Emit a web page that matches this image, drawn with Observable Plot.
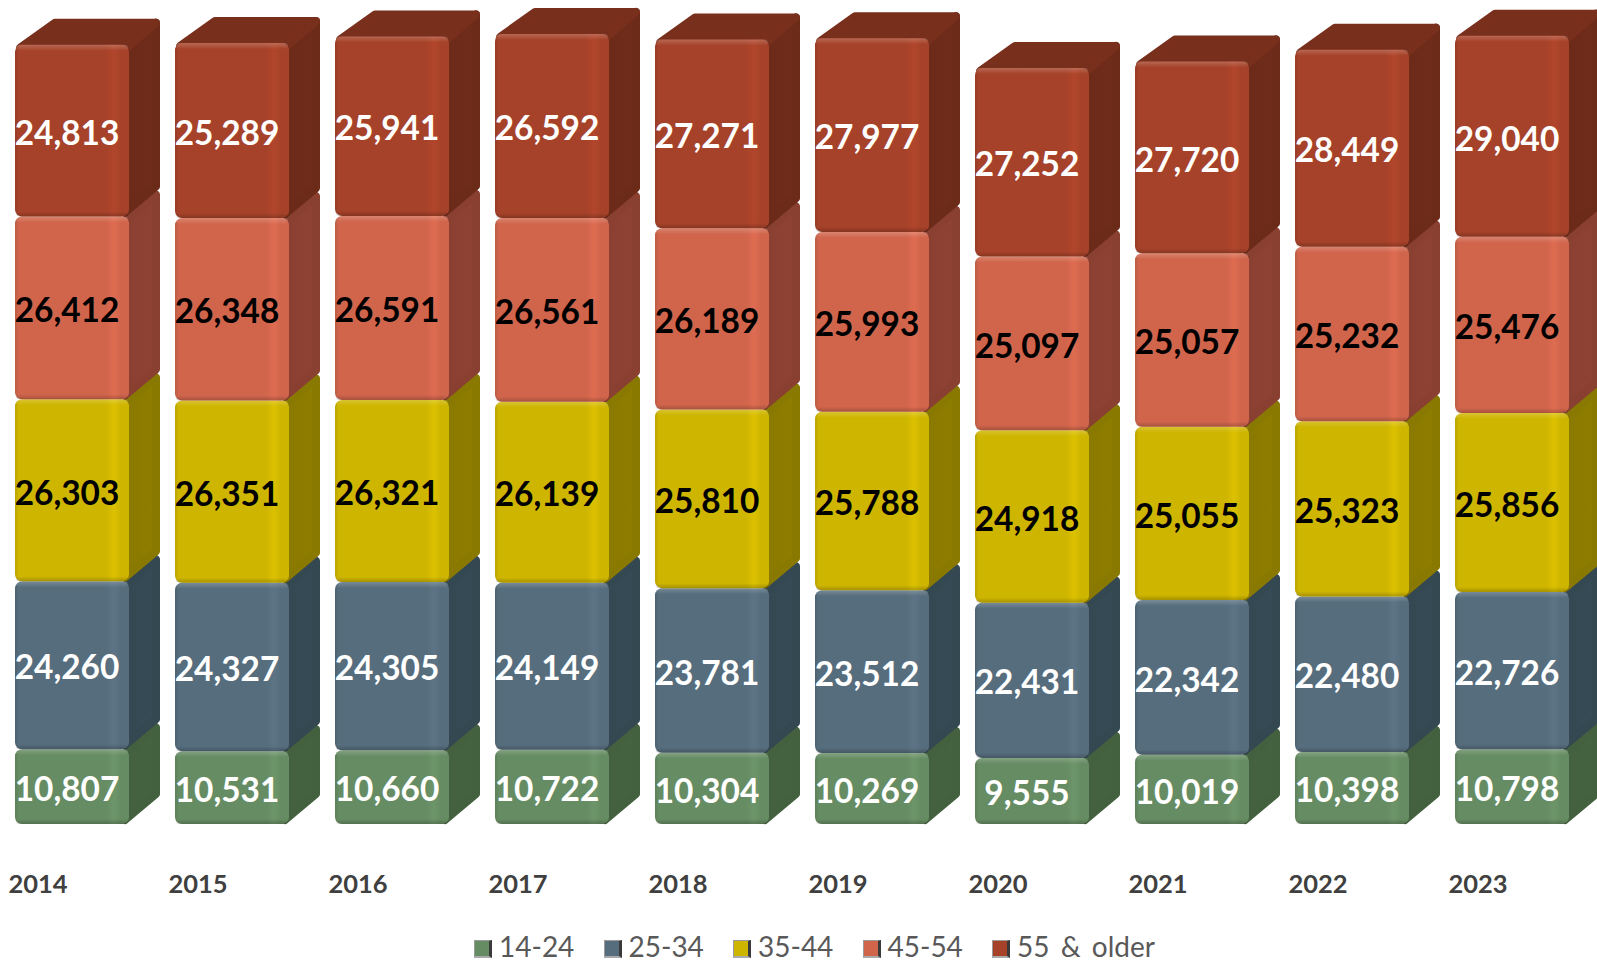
<!DOCTYPE html>
<html><head><meta charset="utf-8">
<script src="https://cdn.jsdelivr.net/npm/d3@7"></script>
<script src="https://cdn.jsdelivr.net/npm/@observablehq/plot@0.6"></script>
<style>
html,body{margin:0;padding:0;background:#fff;overflow:hidden}
#chart svg{display:block;overflow:hidden}
#legend{position:relative;height:38px;padding-left:474px;display:flex;align-items:flex-start;font:400 28px Lato,sans-serif;color:#595959;line-height:30px;word-spacing:4px}
#legend .it{display:flex;align-items:center;width:129.5px;white-space:nowrap;margin-top:6px}
#legend .sw{width:18px;height:18px;margin-right:7px;box-sizing:border-box;flex:none;position:relative;top:3px;border:1px solid #9a9a9a;border-right:3px solid #3a3a3a;border-bottom:2px solid #aaa}
</style></head><body>
<div id="chart"></div><div id="legend"></div>
<script>
const years = ["2014","2015","2016","2017","2018","2019","2020","2021","2022","2023"];
const ages = ["14-24","25-34","35-44","45-54","55 & older"];
const age1424 = [10807,10531,10660,10722,10304,10269,9555,10019,10398,10798];
const age2534 = [24260,24327,24305,24149,23781,23512,22431,22342,22480,22726];
const age3544 = [26303,26351,26321,26139,25810,25788,24918,25055,25323,25856];
const age4554 = [26412,26348,26591,26561,26189,25993,25097,25057,25232,25476];
const age55up = [24813,25289,25941,26592,27271,27977,27252,27720,28449,29040];
const colors = ["#668c63","#566d7d","#ceb500","#d0654c","#a64229"];
const sides  = ["#43603f","#344852","#8a7900","#8a4031","#6c2a19"];
const labelInk = ["white","white","black","black","white"];
const series = [age1424,age2534,age3544,age4554,age55up];
const rows = ages.flatMap((age,a)=>years.map((year,i)=>({year,age,value:series[a][i]})));
const DX=31, DY=26, NS="http://www.w3.org/2000/svg";

function el(tag,attrs,parent){const e=document.createElementNS(NS,tag);for(const k in attrs)e.setAttribute(k,attrs[k]);if(parent)parent.appendChild(e);return e;}

function solid(index,scales,values,dims,ctx,next){
  const g=next(index,scales,values,dims,ctx);
  const rects=[...g.querySelectorAll("rect")];
  const out=el("g",{});
  const defs=el("defs",{},out);
  colors.forEach((c,i)=>{
    const dark=d3.color(c).darker(0.3), lite=d3.color(c).brighter(0.18);
    const gr=el("linearGradient",{id:"front"+i,x1:0,x2:1,y1:0,y2:0},defs);
    [[0,dark],[0.03,c],[0.8,c],[0.87,lite],[0.93,c],[1,c]].forEach(([o,col])=>el("stop",{offset:o,"stop-color":col},gr));
    const tg=el("linearGradient",{id:"side"+i,x1:0,x2:1,y1:0,y2:0},defs);
    [[0,sides[i]],[1,d3.color(sides[i]).brighter(0.1)]].forEach(([o,col])=>el("stop",{offset:o,"stop-color":col},tg));
  });
  const hi=el("linearGradient",{id:"hi",x1:0,x2:0,y1:0,y2:1},defs);
  el("stop",{offset:0,"stop-color":"#fff","stop-opacity":0.2},hi);el("stop",{offset:1,"stop-color":"#fff","stop-opacity":0},hi);
  const lo=el("linearGradient",{id:"lo",x1:0,x2:0,y1:0,y2:1},defs);
  el("stop",{offset:0,"stop-color":"#000","stop-opacity":0},lo);el("stop",{offset:1,"stop-color":"#000","stop-opacity":0.2},lo);
  rects.forEach(r=>{
    const x=+r.getAttribute("x"),y=+r.getAttribute("y"),w=+r.getAttribute("width"),h=+r.getAttribute("height");
    const k=colors.indexOf(d3.color(r.getAttribute("fill")).formatHex());
    const j=4;
    el("path",{d:`M${x+w-j},${y+j}L${x+w+DX-j},${y-DY+j}L${x+w+DX-j},${y+h-DY-j}L${x+w-j},${y+h-j}Z`,fill:`url(#side${k})`,stroke:sides[k],"stroke-width":j*2,"stroke-linejoin":"round"},out);
    if(k===colors.length-1){
      const tc=d3.color(sides[k]).brighter(0.3);
      el("path",{d:`M${x+5},${y+3}L${x+DX+9},${y-DY+j}L${x+w+DX-j},${y-DY+j}L${x+w-2},${y+3}Z`,fill:tc,stroke:tc,"stroke-width":j*2,"stroke-linejoin":"round"},out);
    }
    el("rect",{x,y,width:w,height:h,rx:7,ry:7,fill:`url(#front${k})`},out);
    el("rect",{x:x+1,y:y,width:w-2,height:6,rx:4,ry:4,fill:"url(#hi)"},out);
    el("rect",{x:x+1,y:y+h-5,width:w-2,height:5,rx:4,ry:4,fill:"url(#lo)"},out);
  });
  g.replaceChildren(...out.childNodes);
  return g;
}

const chart=Plot.plot({
  width:1597,height:925,marginTop:34,marginBottom:101,marginLeft:15,marginRight:29,
  style:{background:"#fff",fontFamily:"Lato"},
  x:{domain:years,range:[15,1569],paddingInner:0.2875,paddingOuter:0,align:0,label:null},
  y:{domain:[0,d3.max(years,(_,i)=>d3.sum(series,s=>s[i]))],range:[824,34],axis:null,label:null},
  color:{domain:ages,range:colors},
  marks:[
    Plot.barY(rows,{x:"year",y:"value",fill:"age",render:solid}),
    Plot.text(rows,Plot.stackY({x:"year",y:"value",z:"age",text:d=>d3.format(",")(d.value),
      fill:{value:d=>labelInk[ages.indexOf(d.age)],scale:null},fontSize:33.4,fontWeight:700,fontFamily:"Lato",dx:-5.5,dy:3})),
    Plot.axisX({tickSize:0,tickPadding:50,dx:-34.5,fontSize:25.5,fontWeight:700,fontFamily:"Lato",color:"#404040",fill:"#404040",label:null})
  ]
});
document.getElementById("chart").appendChild(chart);
const lg=document.getElementById("legend");
ages.forEach((a,i)=>{
  const it=document.createElement("div");it.className="it";
  const sw=document.createElement("span");sw.className="sw";sw.style.background=colors[i];
  const t=document.createElement("span");t.textContent=a;
  it.append(sw,t);lg.appendChild(it);
});
</script></body></html>
